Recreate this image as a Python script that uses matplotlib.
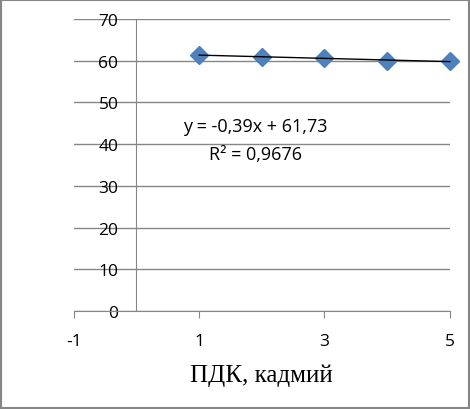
import numpy as np
import matplotlib.pyplot as plt
from matplotlib.patches import Rectangle
plt.rcParams['axes.unicode_minus'] = False

x = [1, 2, 3, 4, 5]
y = [61.4, 60.9, 60.7, 60.0, 59.9]
xticks = [-1, 1, 3, 5]
yticks = [0, 10, 20, 30, 40, 50, 60, 70]

slope, inter = np.polyfit(x, y, 1)

fig = plt.figure(figsize=(4.7, 4.1), dpi=100)
ax = fig.add_axes([0.157, 0.239, 0.8, 0.712])

grey = '#868686'
ax.set_xlim(-1, 5)
ax.set_ylim(0, 70)
ax.set_yticks(yticks)
ax.set_xticks(xticks)
ax.grid(axis='y', color=grey, lw=1)
ax.set_axisbelow(True)

for s in ['top', 'right']:
    ax.spines[s].set_visible(False)
ax.spines['left'].set_position(('data', 0))
ax.spines['left'].set_color(grey)
ax.spines['bottom'].set_color(grey)

ax.tick_params(axis='y', length=0, pad=13, labelsize=12.5)
ax.tick_params(axis='x', length=5, color=grey, pad=11, labelsize=12.5)
for lab in ax.get_xticklabels() + ax.get_yticklabels():
    lab.set_family('Open Sans')

ax.plot(x, y, 'D', color='#4F81BD', markersize=9, markeredgecolor='#4A7EBB',
        zorder=3, clip_on=False)
xs = np.array([x[0], x[-1]])
ax.plot(xs, slope * xs + inter, color='black', lw=1, zorder=4, clip_on=False)

ax.text(1.9, 44.4, 'y = -0,39x + 61,73', ha='center', va='center',
        fontsize=13, family='Open Sans')
ax.text(1.9, 37.6, 'R² = 0,9676', ha='center', va='center',
        fontsize=13, family='Open Sans')

ax.set_xlabel('ПДК, кадмий', family='Liberation Serif', fontsize=18, labelpad=10)

fig.patches.append(Rectangle((0.002, 0.002), 0.996, 0.996, transform=fig.transFigure,
                             fill=False, edgecolor=grey, lw=1.5))

fig.savefig('out.png', dpi=100)
